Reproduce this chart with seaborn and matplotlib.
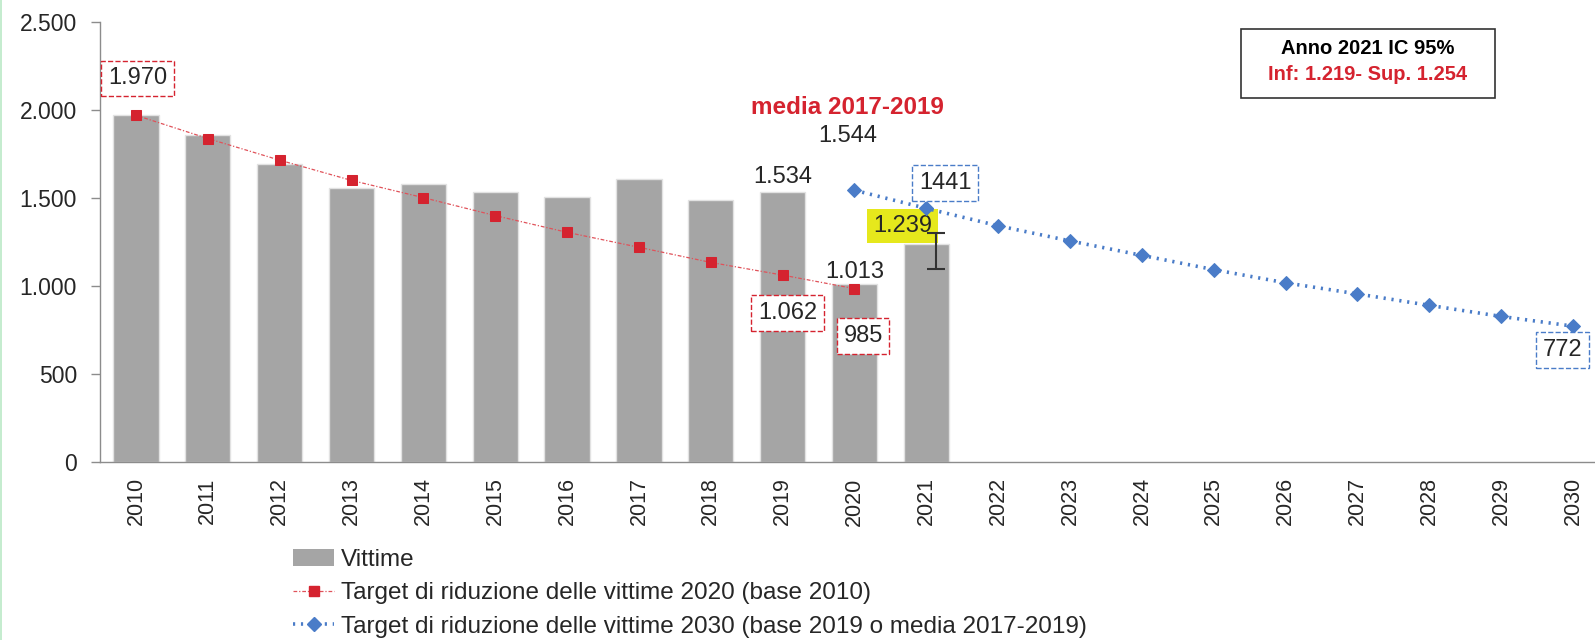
import pandas as pd
import seaborn as sns
import matplotlib.pyplot as plt
from matplotlib.patches import Patch, Rectangle
from matplotlib.lines import Line2D
from matplotlib.ticker import FuncFormatter, FixedLocator

# Dati
anni = [str(a) for a in range(2010, 2031)]
anni_vittime = [str(a) for a in range(2010, 2022)]
vittime = [1970, 1860, 1691, 1559, 1580, 1534, 1504, 1610, 1488, 1534, 1013, 1239]
anni_target2020 = [str(a) for a in range(2010, 2021)]
target2020 = [1970, 1838, 1715, 1600, 1502, 1400, 1305, 1220, 1134, 1062, 985]
anni_target2030 = [str(a) for a in range(2020, 2031)]
target2030 = [1544, 1441, 1342, 1256, 1174, 1093, 1018, 955, 890, 827, 772]
ic_2021 = [1098, 1299]

ROSSO = '#d5232f'
BLU = '#4a7cc8'
GRIGIO = '#a5a5a5'

sns.set_style('white')
plt.rcParams['font.family'] = ['Liberation Sans', 'DejaVu Sans']

fig = plt.figure(figsize=(15.95, 6.4), dpi=100, facecolor='white')
ax = fig.add_axes([100 / 1595, 178 / 640, 1509 / 1595, 440 / 640])

df_v = pd.DataFrame({'anno': anni_vittime, 'vittime': vittime})
sns.barplot(data=df_v, x='anno', y='vittime', order=anni, color=GRIGIO,
            saturation=1, width=0.63, edgecolor='#e2e2e2', linewidth=1, ax=ax)

pos = {a: i for i, a in enumerate(anni)}
df_r = pd.DataFrame({'x': [pos[a] for a in anni_target2020], 'y': target2020})
df_b = pd.DataFrame({'x': [pos[a] for a in anni_target2030], 'y': target2030})
sns.lineplot(data=df_r, x='x', y='y', color='#e0525a', lw=0.9, linestyle=(0, (3, 1.5, 1, 1.5)),
             marker='s', markersize=7, markerfacecolor=ROSSO, markeredgecolor=ROSSO, ax=ax, zorder=3)
sns.lineplot(data=df_b, x='x', y='y', color=BLU, lw=2.6, linestyle=(0, (0.6, 1.6)),
             marker='D', markersize=7, markeredgecolor=BLU, ax=ax, zorder=3)

# intervallo 2021
x21 = pos['2021'] + 0.13
ax.errorbar([x21], [(ic_2021[0] + ic_2021[1]) / 2], yerr=[(ic_2021[1] - ic_2021[0]) / 2],
            color='#333333', lw=1.5, capsize=6.5, capthick=1.5, zorder=4)

ax.set_xlim(-0.5, 20.5)
ax.set_ylim(0, 2500)
ax.set_yticks(range(0, 2501, 500))
ax.yaxis.set_major_formatter(FuncFormatter(lambda v, p: f"{int(v):,}".replace(',', '.')))
ax.set_xlabel('')
ax.set_ylabel('')
ax.set_xticks(range(len(anni)))
ax.set_xticklabels(anni, rotation=90)
ax.xaxis.set_minor_locator(FixedLocator([i - 0.5 for i in range(len(anni) + 1)]))
ax.tick_params(axis='x', which='major', length=0, pad=11, labelsize=15.5)
ax.tick_params(axis='x', which='minor', length=5, width=1, color='#8c8c8c')
ax.tick_params(axis='y', which='major', length=6.5, width=1, color='#8c8c8c', pad=10, labelsize=16.5, left=True)
for s in ['top', 'right']:
    ax.spines[s].set_visible(False)
for s in ['left', 'bottom']:
    ax.spines[s].set_color('#8c8c8c')
    ax.spines[s].set_linewidth(1)

# etichette
box_r = dict(boxstyle='square,pad=0.28', fc='white', ec=ROSSO, ls='--', lw=1)
box_b = dict(boxstyle='square,pad=0.28', fc='white', ec=BLU, ls='--', lw=1)
fs = 17
ax.text(0.02, 2180, '1.970', ha='center', va='center', fontsize=fs, bbox=box_r)
ax.text(9.07, 847, '1.062', ha='center', va='center', fontsize=fs, bbox=box_r)
ax.text(10.12, 716, '985', ha='center', va='center', fontsize=fs, bbox=box_r)
ax.text(11.26, 1585, '1441', ha='center', va='center', fontsize=fs, bbox=box_b)
ax.text(19.85, 636, '772', ha='center', va='center', fontsize=fs, bbox=box_b)
ax.text(10.67, 1340, '1.239', ha='center', va='center', fontsize=fs, zorder=2.5,
        bbox=dict(boxstyle='square,pad=0.25', fc='#e6e81c', ec='none'))
ax.text(9.9, 2017, 'media 2017-2019', ha='center', va='center', fontsize=17.5,
        fontweight='bold', color=ROSSO)
ax.text(9.9, 1850, '1.544', ha='center', va='center', fontsize=fs)
ax.text(9, 1619, '1.534', ha='center', va='center', fontsize=fs)
ax.text(10, 1080, '1.013', ha='center', va='center', fontsize=fs)

# riquadro IC
fig.patches.append(Rectangle((1241 / 1595, 1 - 98 / 640), 254 / 1595, 69 / 640,
                             transform=fig.transFigure, fc='white', ec='#333333', lw=1.2))
fig.text(1368 / 1595, 1 - 48 / 640, 'Anno 2021 IC 95%', ha='center', va='center',
         fontsize=14.5, fontweight='bold', color='black')
fig.text(1368 / 1595, 1 - 74 / 640, 'Inf: 1.219- Sup. 1.254', ha='center', va='center',
         fontsize=14.5, fontweight='bold', color=ROSSO)

# bordo verde a sinistra
fig.patches.append(Rectangle((0, 0), 2 / 1595, 1, transform=fig.transFigure,
                             fc='#c5eccf', ec='none'))

# legenda
handles = [
    Patch(fc=GRIGIO, ec='none'),
    Line2D([], [], color='#e0525a', lw=0.9, ls=(0, (3, 1.5, 1, 1.5)), marker='s', markersize=7,
           markerfacecolor=ROSSO, markeredgecolor=ROSSO),
    Line2D([], [], color=BLU, lw=2.6, ls=(0, (0.6, 1.6)), marker='D', markersize=7),
]
labels = ['Vittime', 'Target di riduzione delle vittime 2020 (base 2010)',
          'Target di riduzione delle vittime 2030 (base 2019 o media 2017-2019)']
fig.legend(handles, labels, loc='upper left', bbox_to_anchor=(293 / 1595, 1 - 549 / 640),
           frameon=False, fontsize=17.5, handlelength=1.7, handletextpad=0.27,
           labelspacing=0.47, borderpad=0, borderaxespad=0)

plt.savefig('out.png', dpi=100)
plt.close()
